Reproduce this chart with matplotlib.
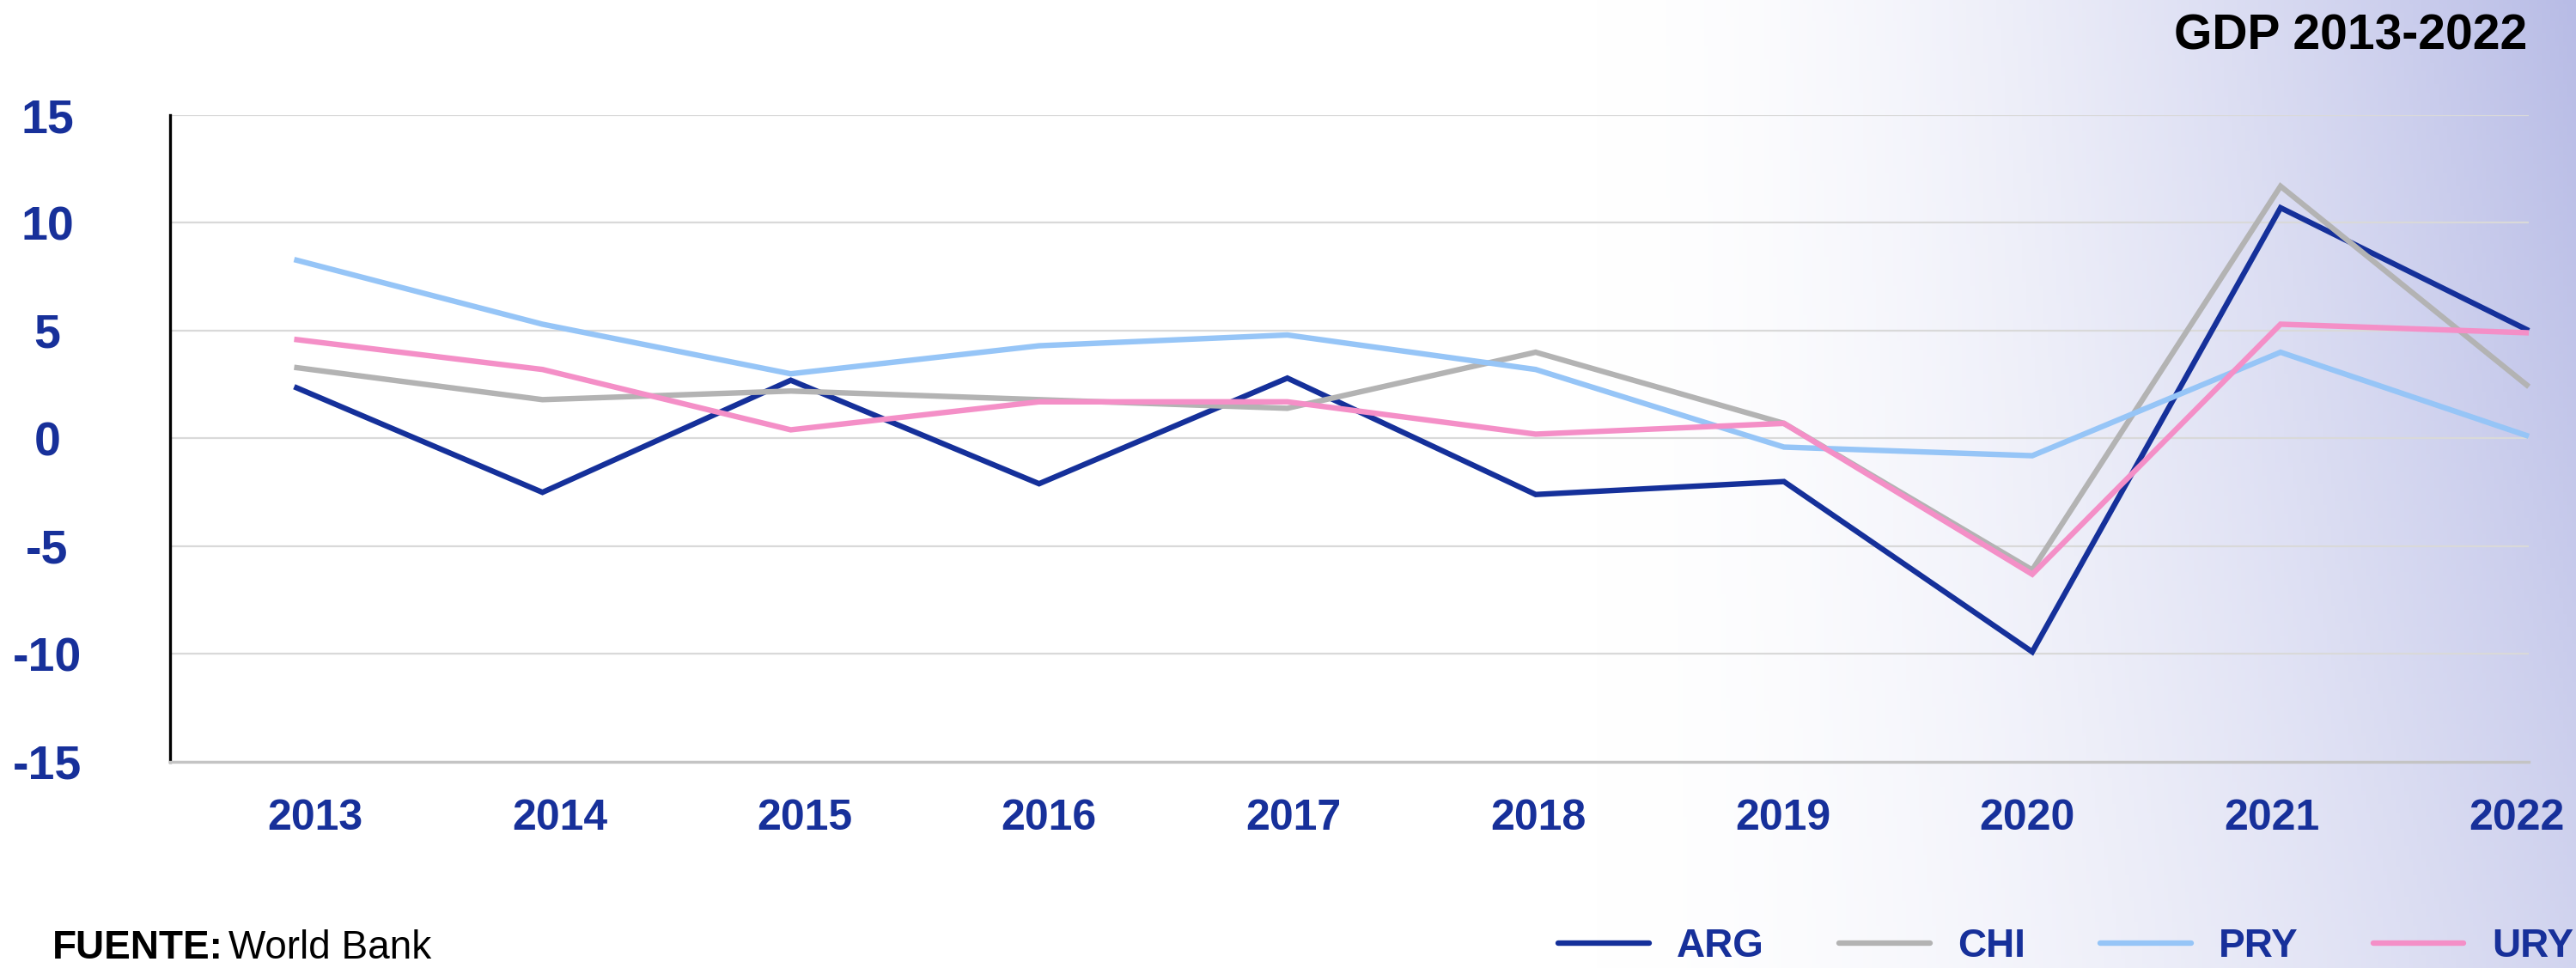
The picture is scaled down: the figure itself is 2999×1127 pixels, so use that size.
import numpy as np
import matplotlib
matplotlib.use("Agg")
import matplotlib.pyplot as plt

# GDP growth (%) 2013-2022, World Bank
years = ["2013", "2014", "2015", "2016", "2017", "2018", "2019", "2020", "2021", "2022"]
arg = [2.4, -2.5, 2.7, -2.1, 2.8, -2.6, -2.0, -9.9, 10.7, 5.0]
chi = [3.3, 1.8, 2.2, 1.8, 1.4, 4.0, 0.7, -6.1, 11.7, 2.4]
pry = [8.3, 5.3, 3.0, 4.3, 4.8, 3.2, -0.4, -0.8, 4.0, 0.1]
ury = [4.6, 3.2, 0.4, 1.7, 1.7, 0.2, 0.7, -6.3, 5.3, 4.9]
series_names = ["ARG", "CHI", "PRY", "URY"]
y_ticks = [-15, -10, -5, 0, 5, 10, 15]

colors = ["#15309a", "#b3b3b3", "#96c5f7", "#f48fc7"]
label_blue = "#17309a"

plt.rcParams["font.family"] = ["Liberation Sans", "DejaVu Sans"]

fig = plt.figure(figsize=(29.99, 11.27), dpi=100)

# background gradient: white on the left, lavender towards the top right
bg = fig.add_axes([0, 0, 1, 1], zorder=0)
w, h = 600, 230
xs = np.linspace(0, 1, w)
ys = np.linspace(0, 1, h)  # 0 = top
tx = np.clip((xs - 0.62) / 0.38, 0, 1) ** 1.6
fy = 1 - 0.36 * ys
t = fy[:, None] * tx[None, :]
end = np.array([184, 188, 230]) / 255.0
img = 1 - t[:, :, None] * (1 - end[None, None, :])
bg.imshow(img, aspect="auto", extent=[0, 1, 0, 1], origin="upper")
bg.set_xlim(0, 1)
bg.set_ylim(0, 1)
bg.axis("off")

ax = fig.add_axes([0.0660, 0.2130, 0.9157, 0.6681], zorder=1)
ax.set_facecolor("none")

x = np.arange(len(years))
for vals, name, c in zip([arg, chi, pry, ury], series_names, colors):
    ax.plot(x, vals, color=c, lw=4.6, label=name, clip_on=False,
            solid_joinstyle="miter", solid_capstyle="butt")

ax.set_xlim(-0.5, 9)
ax.set_ylim(-15, 15)
ax.set_yticks(y_ticks)
ax.set_yticklabels([str(v) for v in y_ticks])
# year labels sit on a slightly narrower band than the data points
ax.set_xticks(x * 0.985 + 0.085)
ax.set_xticklabels(years)
ax.grid(axis="y", color="#d9d9d9", lw=1.6)
ax.set_axisbelow(True)

for s in ["top", "right"]:
    ax.spines[s].set_visible(False)
ax.spines["left"].set_color("black")
ax.spines["left"].set_linewidth(2.4)
ax.spines["bottom"].set_color("#c4c4c4")
ax.spines["bottom"].set_linewidth(2.4)

ax.tick_params(axis="y", length=0, pad=103, labelsize=40, labelcolor=label_blue)
ax.tick_params(axis="x", length=0, pad=31, labelsize=36, labelcolor=label_blue)
for lbl in ax.get_yticklabels():
    lbl.set_fontweight("bold")
    lbl.set_ha("center")
for lbl in ax.get_xticklabels():
    lbl.set_fontweight("bold")

fig.text(0.981, 0.9627, "GDP 2013-2022", ha="right", va="center",
         fontsize=41, fontweight="bold", color="black")

fig.text(0.0203, 0.0204, "FUENTE:", ha="left", va="center",
         fontsize=33, fontweight="bold", color="black")
fig.text(0.0887, 0.0204, "World Bank", ha="left", va="center",
         fontsize=33, color="black")

leg = fig.legend(loc="center right", bbox_to_anchor=(0.999, 0.0225), ncol=4,
                 frameon=False, handlelength=2.3, handletextpad=0.71,
                 columnspacing=1.9, borderpad=0, borderaxespad=0,
                 prop={"weight": "bold", "size": 33})
for txt in leg.get_texts():
    txt.set_color(label_blue)
for line in leg.get_lines():
    line.set_linewidth(4.6)
    line.set_solid_capstyle("round")

fig.savefig("out.png", dpi=100)
